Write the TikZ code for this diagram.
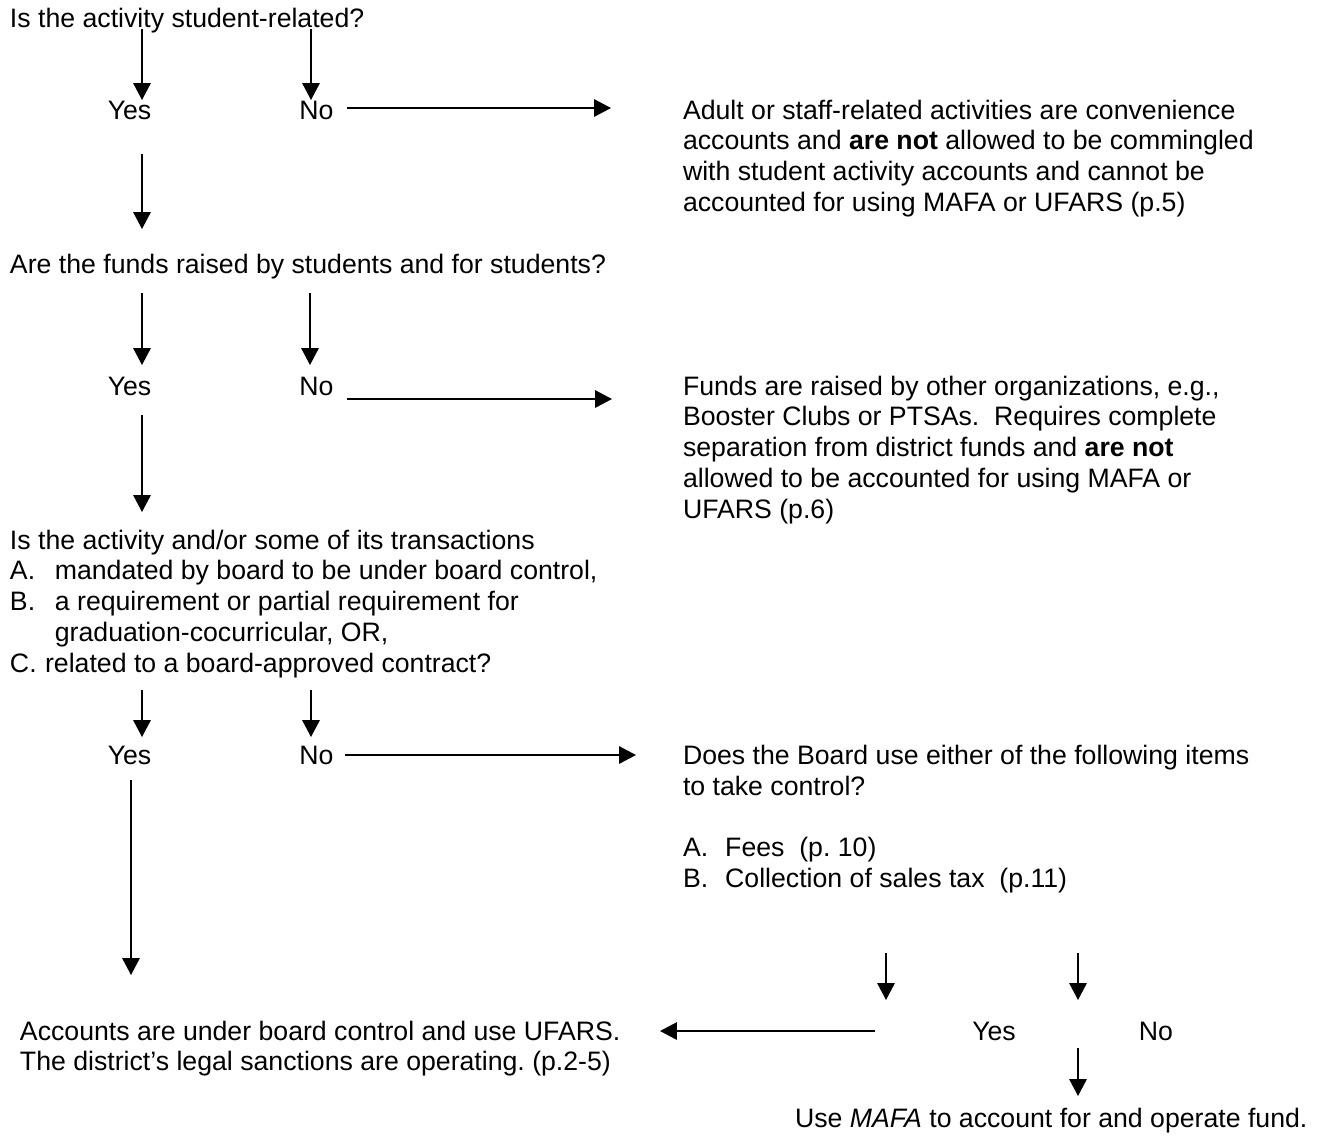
\documentclass[tikz,border=0pt]{standalone}
\usepackage{fontspec}
\setmainfont{Liberation Sans}
\usetikzlibrary{arrows.meta}
\frenchspacing
\tikzset{
  txt/.style={anchor=base west, inner sep=0pt, outer sep=0pt, align=left,
    font=\fontsize{12}{13.9}\selectfont},
  lbl/.style={anchor=base, inner sep=0pt, outer sep=0pt,
    font=\fontsize{12}{13.9}\selectfont},
  arr/.style={line width=0.8pt, -{Triangle[length=7.6pt,width=7.8pt]}},
}
\begin{document}
\begin{tikzpicture}[x=0.45pt, y=-0.45pt]
\useasboundingbox (0,0) rectangle (1322,1137);
% multi-line nodes are placed by the baseline of their last line (pitch 30.9 px)

% Question 1
\node[txt] (q1) at (10,27) {Is the activity student-related?};
\node[lbl] (yes1) at (129.5,119) {Yes};
\node[lbl] (no1) at (316.5,119) {No};
\node[txt] (adult) at (683,211.7) {Adult or staff-related activities are convenience\\
accounts and \textbf{are not} allowed to be commingled\\
with student activity accounts and cannot be\\
accounted for using MAFA or UFARS (p.5)};
\draw[arr] (142,29) -- (142,100);
\draw[arr] (311,29) -- (311,100);
\draw[arr] (347,108) -- (611,108);
\draw[arr] (142,154) -- (142,229);

% Question 2
\node[txt] (q2) at (10,273) {Are the funds raised by students and for students?};
\node[lbl] (yes2) at (129.5,395) {Yes};
\node[lbl] (no2) at (316.5,395) {No};
\node[txt] (funds) at (683,518.6) {Funds are raised by other organizations, e.g.,\\
Booster Clubs or PTSAs.\ \ Requires complete\\
separation from district funds and \textbf{are not}\\
allowed to be accounted for using MAFA or\\
UFARS (p.6)};
\draw[arr] (142,293) -- (142,365);
\draw[arr] (310,293) -- (310,365);
\draw[arr] (347,399) -- (612,399);
\draw[arr] (142,415) -- (142,512);

% Question 3
\node[txt] (q3) at (10,672.6) {Is the activity and/or some of its transactions\\
\makebox[20.2pt][l]{A.}mandated by board to be under board control,\\
\makebox[20.2pt][l]{B.}a requirement or partial requirement for\\
\hspace*{20.2pt}graduation-cocurricular, OR,\\
\makebox[15.8pt][l]{C.}related to a board-approved contract?};
\node[lbl] (yes3) at (129.5,764) {Yes};
\node[lbl] (no3) at (316.5,764) {No};
\node[txt] (board) at (683,887.7) {Does the Board use either of the following items\\
to take control?\\[13.9pt]
\makebox[19pt][l]{A.}Fees\ \ (p. 10)\\
\makebox[19pt][l]{B.}Collection of sales tax\ \ (p.11)};
\draw[arr] (142,690) -- (142,737);
\draw[arr] (311,690) -- (311,737);
\draw[arr] (345,755) -- (636,755);
\draw[arr] (131,780) -- (131,975);

% Bottom
\node[txt] (acc) at (20,1070.9) {Accounts are under board control and use UFARS.\\
The district’s legal sanctions are operating. (p.2-5)};
\node[lbl] (yes4) at (994,1040) {Yes};
\node[lbl] (no4) at (1156,1040) {No};
\node[txt] (mafa) at (795,1127) {Use \textit{MAFA} to account for and operate fund.};
\draw[arr] (886,953) -- (886,1000);
\draw[arr] (1078,953) -- (1078,1000);
\draw[arr] (875,1031) -- (660,1031);
\draw[arr] (1078,1048) -- (1078,1096);
\end{tikzpicture}
\end{document}
